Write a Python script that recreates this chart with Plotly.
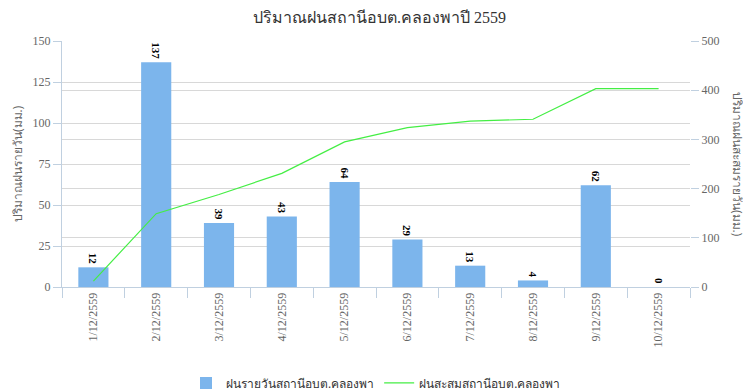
import plotly.graph_objects as go

dates = ["1/12/2559", "2/12/2559", "3/12/2559", "4/12/2559", "5/12/2559",
         "6/12/2559", "7/12/2559", "8/12/2559", "9/12/2559", "10/12/2559"]
daily_rain = [12, 137, 39, 43, 64, 29, 13, 4, 62, 0]
cumulative_rain = [12, 149, 188, 231, 295, 324, 337, 341, 403, 403]

serif = "Liberation Serif, Times New Roman, serif"

fig = go.Figure()
fig.add_trace(go.Bar(
    x=dates, y=daily_rain, name="ฝนรายวันสถานีอบต.คลองพา",
    marker=dict(color="#7cb5ec", line=dict(width=0)), width=0.48,
    text=[str(v) for v in daily_rain], textposition="outside", textangle=90,
    textfont=dict(family=serif, size=11, color="#000000", weight="bold"),
    cliponaxis=False, constraintext="none", yaxis="y",
))
fig.add_trace(go.Scatter(
    x=dates, y=cumulative_rain, name="ฝนสะสมสถานีอบต.คลองพา",
    mode="lines", line=dict(color="#44ee44", width=1.2), yaxis="y2",
))

# page body has an 8px default margin, so the figure is sized to fill the rest
fig.update_layout(
    width=743, height=383,
    margin=dict(l=54, r=61, t=33, b=104, autoexpand=False),
    paper_bgcolor="white", plot_bgcolor="white",
    title=dict(text="ปริมาณฝนสถานีอบต.คลองพาปี 2559", x=0.5, xanchor="center",
               y=0.975, yanchor="middle", font=dict(family=serif, size=16, color="#333333")),
    showlegend=True,
    legend=dict(orientation="h", x=0.5, xanchor="center", y=-0.39, yanchor="middle",
                font=dict(size=12, color="#333333"), itemwidth=30, tracegroupgap=0),
    xaxis=dict(
        type="category", tickangle=-90, showgrid=False, automargin=False,
        showline=True, linecolor="#C0D0E0", linewidth=1,
        ticks="outside", tickcolor="#C0D0E0", ticklen=10, tickson="boundaries",
        tickfont=dict(family=serif, size=12, color="#666666"),
    ),
    yaxis=dict(
        range=[0, 150], tickvals=[0, 25, 50, 75, 100, 125, 150], automargin=False,
        showgrid=True, gridcolor="#D8D8D8", zeroline=False,
        showline=True, linecolor="#C0D0E0", linewidth=1,
        ticks="outside", tickcolor="#C0D0E0", ticklen=8,
        tickfont=dict(family=serif, size=12, color="#666666"),
    ),
    yaxis2=dict(
        range=[0, 500], tickvals=[0, 100, 200, 300, 400, 500], overlaying="y", side="right",
        automargin=False,
        showgrid=True, gridcolor="#D8D8D8", zeroline=False, showline=False,
        ticks="outside", tickcolor="#C0D0E0", ticklen=8,
        tickfont=dict(family=serif, size=12, color="#666666"),
    ),
    annotations=[
        dict(text="ปริมาณฝนรายวัน(มม.)", textangle=-90, xref="paper", yref="paper",
             x=0, xshift=-45, y=0.5, xanchor="center", yanchor="middle", showarrow=False,
             font=dict(size=12, color="#666666")),
        dict(text="ปริมาณฝนสะสมรายวัน(มม.)", textangle=90, xref="paper", yref="paper",
             x=1, xshift=48, y=0.5, xanchor="center", yanchor="middle", showarrow=False,
             font=dict(size=12, color="#666666")),
    ],
)

fig.write_html("out.html")
